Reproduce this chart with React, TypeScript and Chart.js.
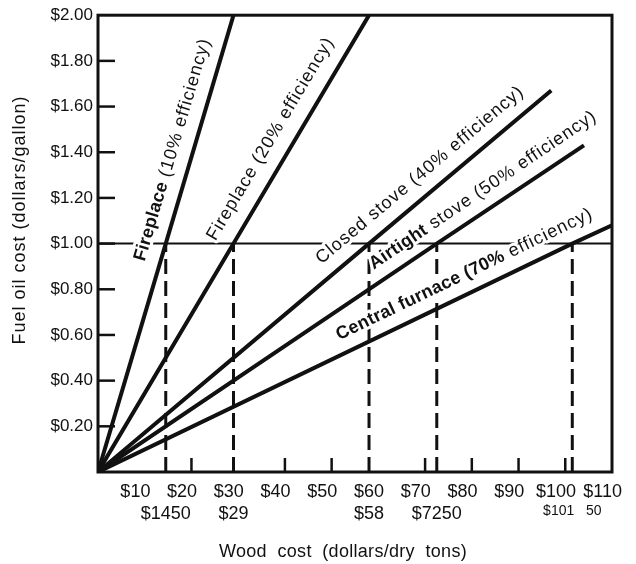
import { useEffect, useRef } from "react";
import { Chart, registerables } from "chart.js";

Chart.register(...registerables);

// ---------------- data ----------------
const appliances = ["Fireplace", "Fireplace", "Closed stove", "Airtight stove", "Central furnace"];
const efficiencyPct = [10, 20, 40, 50, 70];
// wood cost (dollars/dry ton) at which wood equals fuel oil at $1.00/gallon
const breakEvenWoodCost = [14.5, 29, 58, 72.5, 101.5];
const breakEvenOilCost = 1.0;
// where each drawn line ends
const lineEndWoodCost = [29, 58, 97, 104, 110];
const lineEndOilCost = [2.0, 2.0, 1.67, 1.43, 1.08];
const breakEvenLabels = ["$1450", "$29", "$58", "$7250", "$101   50"];
const woodTickValues = [10, 20, 30, 40, 50, 60, 70, 80, 90, 100, 110];
const woodMinorTicks = [20, 40, 50, 70, 80, 90, 100];
const oilTickValues = [0.2, 0.4, 0.6, 0.8, 1.0, 1.2, 1.4, 1.6, 1.8, 2.0];
const woodAxisMax = 110;
const oilAxisMax = 2.0;

// ---------------- styling ----------------
const FONT = "'Liberation Sans', Arial, Helvetica, sans-serif";
const INK = "#111111";

// label placement along each line: wood value of label centre, perpendicular gap (px), bold prefix
const labelStyles = [
  { at: 20.1, gap: 20, bold: "Fireplace" },
  { at: 40.9, gap: 21.5, bold: "" },
  { at: 71.6, gap: 19.5, bold: "" },
  { at: 84.6, gap: 18.5, bold: "Airtight" },
  { at: 80.2, gap: 19, bold: "Central furnace (70%" },
];

const annotatePlugin = {
  id: "annotate",
  afterDatasetsDraw(chart: any) {
    const { ctx, chartArea: a, scales } = chart;
    const xs = scales.x;
    const ys = scales.y;
    ctx.save();
    ctx.fillStyle = INK;
    ctx.textBaseline = "middle";
    ctx.textAlign = "left";

    // line labels
    labelStyles.forEach((st, i) => {
      const px0 = xs.getPixelForValue(0);
      const py0 = ys.getPixelForValue(0);
      const px1 = xs.getPixelForValue(breakEvenWoodCost[i]);
      const py1 = ys.getPixelForValue(breakEvenOilCost);
      const ang = Math.atan2(py1 - py0, px1 - px0);
      const wy = (st.at / breakEvenWoodCost[i]) * breakEvenOilCost;
      const ax = xs.getPixelForValue(st.at);
      const ay = ys.getPixelForValue(wy);
      const ux = Math.sin(ang);
      const uy = -Math.cos(ang);
      const cx = ax + ux * st.gap;
      const cy = ay + uy * st.gap;
      const full = `${appliances[i]} (${efficiencyPct[i]}% efficiency)`;
      const segs: [string, boolean][] = [];
      if (st.bold && full.startsWith(st.bold)) {
        segs.push([st.bold, true]);
        segs.push([full.slice(st.bold.length), false]);
      } else {
        segs.push([full, false]);
      }
      const setFont = (b: boolean) => {
        ctx.font = `${b ? "bold " : ""}18px ${FONT}`;
        (ctx as any).letterSpacing = b ? "0.3px" : "1px";
      };
      let total = 0;
      const widths = segs.map(([t, b]) => {
        setFont(b);
        const w = ctx.measureText(t).width;
        total += w;
        return w;
      });
      ctx.save();
      ctx.translate(cx, cy);
      ctx.rotate(ang);
      let x = -total / 2;
      segs.forEach(([t, b], k) => {
        setFont(b);
        ctx.strokeStyle = "#ffffff";
        ctx.lineWidth = 6;
        ctx.lineJoin = "round";
        ctx.strokeText(t, x, 0);
        x += widths[k];
      });
      x = -total / 2;
      segs.forEach(([t, b], k) => {
        setFont(b);
        ctx.fillText(t, x, 0);
        x += widths[k];
      });
      ctx.restore();
    });

    // frame
    ctx.strokeStyle = INK;
    ctx.lineWidth = 3;
    ctx.strokeRect(a.left, a.top, a.width, a.height);

    // inward ticks on y axis
    ctx.lineWidth = 2.5;
    oilTickValues.forEach((v) => {
      if (v >= oilAxisMax) return;
      const py = ys.getPixelForValue(v);
      ctx.beginPath();
      ctx.moveTo(a.left, py);
      ctx.lineTo(a.left + 17, py);
      ctx.stroke();
    });
    // inward ticks on x axis
    woodMinorTicks.forEach((v) => {
      const px = xs.getPixelForValue(v);
      ctx.beginPath();
      ctx.moveTo(px, a.bottom);
      ctx.lineTo(px, a.bottom - 14);
      ctx.stroke();
    });

    // axis titles
    ctx.font = `18px ${FONT}`;
    ctx.textAlign = "center";
    (ctx as any).letterSpacing = "0.3px";
    ctx.fillText("Wood  cost  (dollars/dry  tons)", 343, 552);
    (ctx as any).letterSpacing = "1px";
    ctx.save();
    ctx.translate(20, 220);
    ctx.rotate(-Math.PI / 2);
    ctx.fillText("Fuel oil cost (dollars/gallon)", 0, 0);
    ctx.restore();

    ctx.restore();
  },
};

export default function App() {
  const ref = useRef<HTMLCanvasElement | null>(null);

  useEffect(() => {
    if (!ref.current) return;
    const lineSets = appliances.map((_, i) => ({
      data: [
        { x: 0, y: 0 },
        { x: breakEvenWoodCost[i], y: breakEvenOilCost },
        { x: lineEndWoodCost[i], y: lineEndOilCost[i] },
      ],
      borderColor: INK,
      borderWidth: 4,
      pointRadius: 0,
      tension: 0,
      xAxisID: "x",
      yAxisID: "y",
    }));
    const horizontal = {
      data: [
        { x: 0, y: breakEvenOilCost },
        { x: woodAxisMax, y: breakEvenOilCost },
      ],
      borderColor: INK,
      borderWidth: 2,
      pointRadius: 0,
      xAxisID: "x",
      yAxisID: "y",
    };
    const verticals = breakEvenWoodCost.map((w) => ({
      data: [
        { x: w, y: 0 },
        { x: w, y: breakEvenOilCost },
      ],
      borderColor: INK,
      borderWidth: 3,
      borderDash: [15, 7],
      pointRadius: 0,
      xAxisID: "x",
      yAxisID: "y",
    }));

    const chart = new Chart(ref.current, {
      type: "line",
      data: { datasets: [...lineSets, horizontal, ...verticals] as any },
      options: {
        animation: false,
        responsive: false,
        devicePixelRatio: 1,
        layout: { padding: { left: 0, right: 24, top: 12, bottom: 0 } },
        plugins: { legend: { display: false }, tooltip: { enabled: false } },
        scales: {
          x: {
            type: "linear",
            display: false,
            min: 0,
            max: woodAxisMax,
          },
          xl: {
            type: "linear",
            position: "bottom",
            weight: 1,
            min: 2,
            max: 112,
            grid: { display: false, drawTicks: false },
            border: { display: false },
            afterBuildTicks: (s: any) => {
              s.ticks = woodTickValues.map((v) => ({ value: v }));
            },
            afterFit: (s: any) => {
              s.height = 26;
            },
            ticks: {
              autoSkip: false,
              maxRotation: 0,
              padding: 9,
              color: INK,
              font: { family: FONT, size: 18 },
              callback: (v: any) => "$" + v,
            },
          },
          x2: {
            type: "linear",
            position: "bottom",
            weight: 2,
            min: 0,
            max: woodAxisMax,
            grid: { display: false, drawTicks: false },
            border: { display: false },
            afterBuildTicks: (s: any) => {
              s.ticks = breakEvenWoodCost.map((v) => ({ value: v }));
            },
            afterFit: (s: any) => {
              s.height = 66;
            },
            ticks: {
              autoSkip: false,
              maxRotation: 0,
              padding: 5,
              color: INK,
              font: (c: any) => ({ family: FONT, size: c.index === breakEvenLabels.length - 1 ? 14 : 18 }),
              callback: (_v: any, i: number) => breakEvenLabels[i],
            },
          },
          y: {
            type: "linear",
            min: 0,
            max: oilAxisMax,
            grid: { display: false, drawTicks: false },
            border: { display: false },
            afterBuildTicks: (s: any) => {
              s.ticks = oilTickValues.map((v) => ({ value: v }));
            },
            afterFit: (s: any) => {
              s.width = 98;
            },
            ticks: {
              autoSkip: false,
              padding: 5,
              color: INK,
              font: { family: FONT, size: 17 },
              callback: (v: any) => "$" + Number(v).toFixed(2),
            },
          },
        },
      },
      plugins: [annotatePlugin],
    });
    return () => chart.destroy();
  }, []);

  return (
    <div style={{ position: "fixed", left: 0, top: 0, width: 636, height: 564, background: "#fff" }}>
      <canvas ref={ref} width={636} height={564} style={{ display: "block", width: 636, height: 564 }} />
    </div>
  );
}
